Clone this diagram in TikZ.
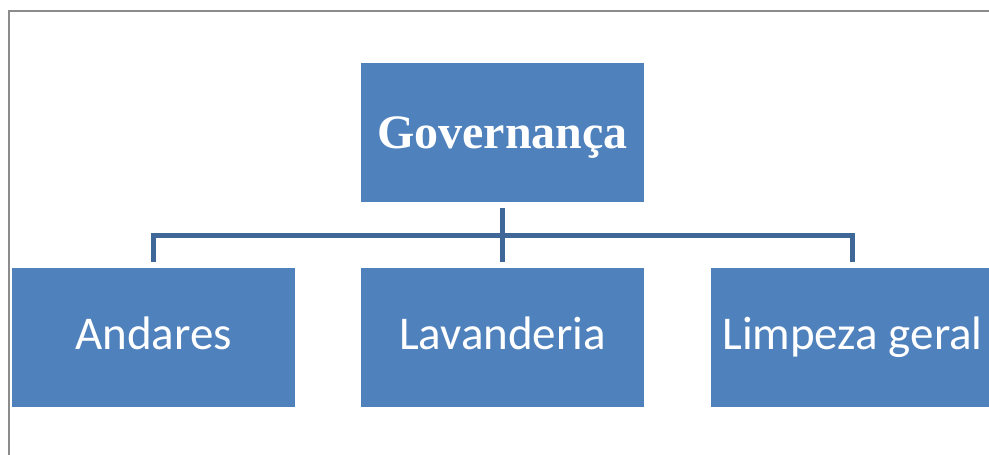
\documentclass[tikz,border=0pt]{standalone}
\usepackage{fontspec}
\setmainfont{Liberation Serif}
\newfontfamily\calfont{Carlito}
\definecolor{boxblue}{HTML}{4F81BD}
\definecolor{linkblue}{HTML}{3F6797}
\definecolor{framegray}{HTML}{8C8C8C}
\tikzset{
  orgbox/.style={fill=boxblue, draw=none, minimum width=283pt, minimum height=139pt, inner sep=0pt, text=white},
  toptext/.style={font=\fontsize{48}{56}\selectfont\bfseries, text height=32pt, text depth=0pt},
  subtext/.style={font=\calfont\fontsize{47}{56}\selectfont, text height=23pt, text depth=0pt},
  conn/.style={draw=linkblue, line width=5pt, line join=miter}
}
\begin{document}
\begin{tikzpicture}
\useasboundingbox (0pt,0pt) rectangle (989pt,-455pt);
\draw[framegray, line width=2pt] (8.5pt,-460pt) -- (8.5pt,-10.5pt) -- (995pt,-10.5pt);
\node[orgbox, toptext] (top) at (502.5pt,-132pt) {Governança};
\node[orgbox, subtext] (a) at (153.5pt,-337.5pt) {Andares};
\node[orgbox, subtext] (b) at (502.5pt,-337.5pt) {Lavanderia};
\node[orgbox, subtext] (c) at (852.5pt,-337.5pt) {Limpeza geral};
\coordinate (h) at (502.5pt,-235pt);
\draw[conn] ([yshift=6pt]a.north) |- (h) -| ([yshift=6pt]c.north);
\draw[conn] ([yshift=-6pt]top.south) -- ([yshift=6pt]b.north);
\end{tikzpicture}
\end{document}
